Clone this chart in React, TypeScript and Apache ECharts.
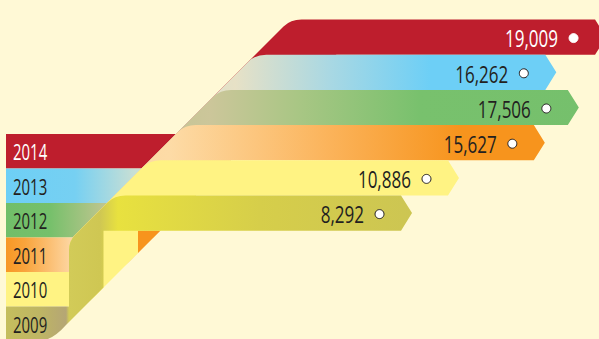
import { useEffect, useRef } from 'react';
import * as echarts from 'echarts';

// ---- data ----
const years = ['2014', '2013', '2012', '2011', '2010', '2009'];
const values = [19009, 16262, 17506, 15627, 10886, 8292];

// ---- styles ----
const labelColors = ['#FFFFFF', '#231F20', '#231F20', '#231F20', '#231F20', '#231F20'];
const circleStroke = ['#FFFFFF', '#231F20', '#231F20', '#231F20', '#231F20', '#231F20'];
// horizontal gradient stops (pixel x, color)
const gradients: [number, string][][] = [
  [[0, '#BE1E2D'], [599, '#BE1E2D']],
  [[0, '#6DCFF6'], [75, '#76D0F2'], [135, '#C9DFD4'], [235, '#E7E1C6'], [330, '#A9D8E3'], [430, '#6DCFF6'], [599, '#6DCFF6']],
  [[0, '#70BE69'], [50, '#76C06B'], [103, '#BDC58E'], [210, '#CCC69A'], [300, '#A8C684'], [420, '#78C16D'], [599, '#75C06C']],
  [[0, '#F7941D'], [25, '#F9A43C'], [70, '#FDD5A0'], [170, '#FDDBA6'], [330, '#FBB35A'], [460, '#F7941D'], [599, '#F7941D']],
  [[0, '#FFF383'], [599, '#FFF383']],
  [[0, '#C6BF5C'], [40, '#BEB564'], [66, '#B5A675'], [69, '#D2CB58'], [100, '#CFC753'], [118, '#E8E13F'], [260, '#D6CE4A'], [420, '#CCC553'], [599, '#CCC553']],
];
const foldBackColor = '#F7941D';

const FONT = "'Open Sans', 'Noto Sans', sans-serif";
const X0 = 6;
const LEFT_TOP = 134;
const LEFT_H = 34.5;
const U = 310; // upper-left diagonal x + y
const D = 391; // lower-right diagonal x + y
const FX = 69; // fold x
const TIP = 11;

function grad(i: number) {
  return new echarts.graphic.LinearGradient(
    0, 0, 599, 0,
    gradients[i].map(([x, c]) => ({ offset: x / 599, color: c })),
    true
  );
}

export default function App() {
  const ref = useRef<HTMLDivElement>(null);
  useEffect(() => {
    document.body.style.margin = '0';
    const chart = echarts.init(ref.current!, null, { renderer: 'svg' });
    const N = years.length;
    chart.setOption({
      animation: false,
      backgroundColor: '#FFF9D6',
      grid: { left: 0, right: 0, top: 19.5, height: 211.2 },
      xAxis: { type: 'value', min: -13858, max: 19227, show: false },
      yAxis: { type: 'category', data: years, inverse: true, show: false },
      series: [
        {
          type: 'custom',
          data: values.map((v, i) => [v, i]),
          encode: { x: 0, y: 1 },
          clip: false,
          renderItem: (params: any, api: any) => {
            const v = api.value(0) as number;
            const i = api.value(1) as number;
            const [xc, yc] = api.coord([v, i]);
            const bh = api.size([0, 1])[1];
            const yFold = api.coord([0, N - 1])[1] + bh / 2;
            const yRt = yc - bh / 2;
            const yRb = yc + bh / 2;
            const yLt = LEFT_TOP + i * LEFT_H;
            const yLb = yLt + LEFT_H;
            const p: string[] = [];
            p.push(`M${X0},${yLt}`);
            const jx = U - yLt;
            if (jx >= FX) {
              p.push(`L${jx},${yLt}`);
            } else {
              p.push(`L${FX},${yLt}`);
              p.push(`L${FX},${U - FX + 9}`);
              p.push(`Q${FX},${U - FX} ${FX + 6},${U - FX - 6}`);
            }
            const cx = U - yRt;
            p.push(`L${cx - 7},${yRt + 7}`);
            p.push(`Q${cx},${yRt} ${cx + 11},${yRt}`);
            p.push(`L${xc},${yRt}`);
            p.push(`L${xc + TIP},${yc}`);
            p.push(`L${xc},${yRb}`);
            const nx = FX + (N - i) * LEFT_H;
            const extra: any[] = [];
            if (nx < D - yFold) {
              if (yRb < yFold - 0.5) {
                p.push(`L${D - yRb},${yRb}`);
                p.push(`L${D - yFold},${yFold}`);
                p.push(`L${nx},${yFold}`);
                // back side of the ribbon beneath, visible in the notch
                extra.push({
                  type: 'polygon',
                  shape: { points: [[nx, yFold], [D - yFold, yFold], [nx, D - nx]] },
                  style: { fill: foldBackColor },
                });
              } else {
                p.push(`L${nx},${yRb}`);
              }
              p.push(`L${nx},${D - nx}`);
            } else {
              p.push(`L${D - yRb},${yRb}`);
            }
            const bx = D - yLb;
            p.push(`L${bx + 16},${yLb - 16}`);
            p.push(`Q${bx + 2},${yLb} ${bx - 12},${yLb}`);
            p.push(`L${X0},${yLb} Z`);
            return {
              type: 'group',
              children: [
                { type: 'path', shape: { pathData: p.join(' ') }, style: { fill: grad(i) } },
                ...extra,
                {
                  type: 'text',
                  x: xc - 37, y: yc + 1, scaleX: 0.71,
                  style: {
                    x: 0, y: 0, text: v.toLocaleString('en-US'),
                    align: 'right', verticalAlign: 'middle',
                    fontSize: 24, fontFamily: FONT, fill: labelColors[i],
                  },
                },
                {
                  type: 'circle',
                  shape: { cx: xc - 21.5, cy: yc + 1, r: 4.5 },
                  style: { fill: '#FFFFFF', stroke: circleStroke[i], lineWidth: 1 },
                },
                {
                  type: 'text',
                  x: 13, y: yLt + LEFT_H / 2 + 1, scaleX: 0.68,
                  style: {
                    x: 0, y: 0, text: years[i],
                    align: 'left', verticalAlign: 'middle',
                    fontSize: 22, fontFamily: FONT, fill: labelColors[i],
                  },
                },
              ],
            };
          },
        },
      ],
    });
    return () => chart.dispose();
  }, []);
  return <div ref={ref} style={{ width: 599, height: 339 }} />;
}
